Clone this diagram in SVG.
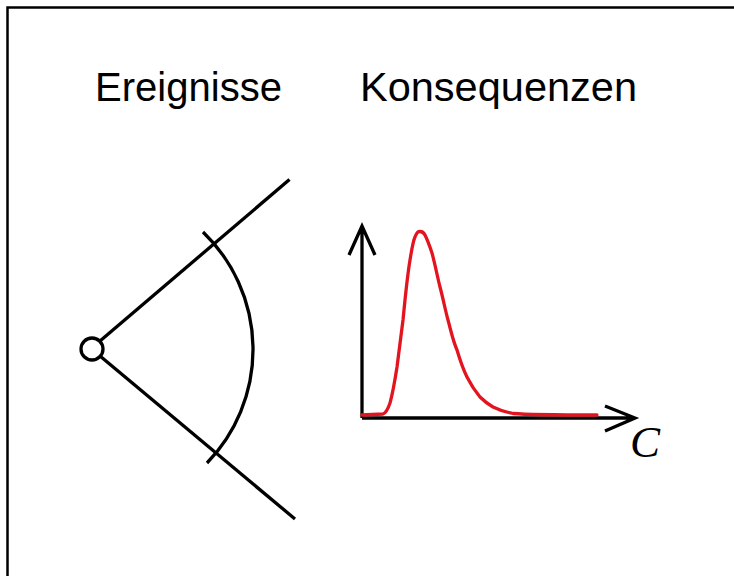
<svg xmlns="http://www.w3.org/2000/svg" width="734" height="576" viewBox="0 0 734 576">
<style>
.title{font-family:"Liberation Sans","Open Sans",sans-serif;font-size:40px;fill:#000}
.ln{fill:none;stroke:#000;stroke-width:3.3;stroke-linecap:butt}
.curve{fill:none;stroke:#e3141f;stroke-width:3.3;stroke-linejoin:round;stroke-linecap:round}
</style>
<rect width="734" height="576" fill="#fff"/>
<path d="M7.5,576 V7.5 H734" fill="none" stroke="#000" stroke-width="2.5"/>
<text class="title" x="95" y="101" textLength="187" lengthAdjust="spacingAndGlyphs">Ereignisse</text>
<text class="title" x="360" y="101" textLength="277" lengthAdjust="spacingAndGlyphs">Konsequenzen</text>
<g id="connectors">
<line class="ln" x1="100" y1="341" x2="289.5" y2="179.5"/>
<line class="ln" x1="100" y1="356" x2="295" y2="519"/>
<path class="ln" d="M203,232 A163,163 0 0 1 207,463"/>
</g>
<g id="origin">
<circle cx="92" cy="349" r="11" fill="#fff" stroke="#000" stroke-width="3.3"/>
</g>
<g id="chart">
<path class="ln" d="M362,418 V226 M349,255 L362,226 L375,255"/>
<path class="ln" d="M362,418 H635 M605,406 L635,418 L605,431"/>
<path class="curve" d="M362,415 L383,414 C386,413 388,409 390,403 C393,392 395,380 397,367 C399,352 401,336 403,320 C405,300 407,278 410,260 C412,248 413,241 415,237 C417,232 418,231.5 420,231.5 C422,231.5 424,233 425,235 C428,241 430,247 432,253 C435,264 437,275 440,287 C443,298 445,309 448,320 C451,331 453,341 457,350 C460,360 463,369 467,377 C471,385 475,391 480,397 C484,401 488,404 493,407 C499,410 505,412 513,413.5 C530,415 560,415 597,415"/>
<text x="630" y="457" font-family="'Liberation Serif','Times New Roman',serif" font-style="italic" font-size="45" fill="#000">C</text>
</g>
</svg>
